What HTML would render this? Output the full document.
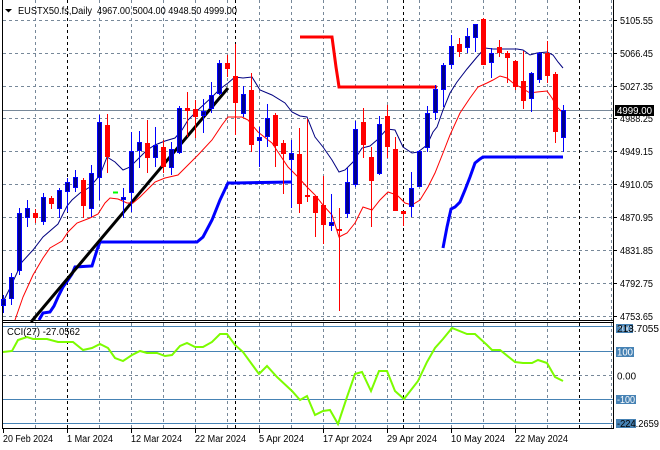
<!DOCTYPE html>
<html><head><meta charset="utf-8"><style>
html,body{margin:0;padding:0;background:#fff;}
svg{display:block;font-family:"Liberation Sans",sans-serif;}
</style></head><body>
<svg width="660" height="450" viewBox="0 0 660 450" xmlns="http://www.w3.org/2000/svg">
<rect width="660" height="450" fill="#fff"/>
<!-- grid main -->
<g stroke="#778899" stroke-width="1" stroke-dasharray="3,3" fill="none">
<path d="M3 20.5H613M3 53.5H613M3 86.5H613M3 118.5H613M3 151.5H613M3 184.5H613M3 217.5H613M3 250.5H613M3 283.5H613M3 316.5H613"/>
<path d="M35.5 0V320M99.5 0V320M131.5 0V320M163.5 0V320M195.5 0V320M227.5 0V320M259.5 0V320M291.5 0V320M323.5 0V320M355.5 0V320M387.5 0V320M419.5 0V320M451.5 0V320M483.5 0V320M515.5 0V320M547.5 0V320M611.5 0V320"/>
<path d="M35.5 323V428M99.5 323V428M131.5 323V428M163.5 323V428M195.5 323V428M227.5 323V428M259.5 323V428M291.5 323V428M323.5 323V428M355.5 323V428M387.5 323V428M419.5 323V428M451.5 323V428M483.5 323V428M515.5 323V428M547.5 323V428M611.5 323V428"/>
<path d="M3 375.5H613"/>
</g>
<g stroke="#000" stroke-width="1" stroke-dasharray="3,3" fill="none">
<path d="M67.5 0V320M235.5 0V320M403.5 0V320M579.5 0V320M67.5 323V428M235.5 323V428M403.5 323V428M579.5 323V428"/>
</g>
<!-- current price line -->
<path d="M3 110.5H613" stroke="#778899" stroke-width="1"/>
<!-- thick lines -->
<polyline fill="none" stroke="#0000ff" stroke-width="3" points="39,320 43,313 50,312 54,306 58,297 63,287 68,280 72,274 75,267 92,266 97,250 100,242 197,242 203,237 212,220 220,200 228,183 235,183 292,182"/>
<polyline fill="none" stroke="#0000ff" stroke-width="3" points="443,248 447,227 451,209 455,207 460,202 465,190 470,177 475,163 480,159 483,157 563,157"/>
<polyline fill="none" stroke="#ff0000" stroke-width="3" points="300,37 332,37 334,52 336,67 338,80 339,87 437,87"/>
<polyline fill="none" stroke="#000" stroke-width="3" points="31,322 228,88"/>
<!-- MA lines -->
<polyline fill="none" stroke="#000080" stroke-width="1" points="4,300 10,288 22,262 33,250 43,237 58,224 67,206 72,200 80,193 90,187 100,175 107,157 115,162 123,170 130,167 137,160 147,150 155,145 165,141 175,138 182,130 188,120 198,110 212,97 220,89 228,83 235,77 243,78 252,77 260,90 272,95 285,103 292,112 300,116 307,117 315,137 323,147 332,160 339,172 345,170 353,162 362,148 370,146 377,140 387,129 395,130 403,147 412,153 418,152 427,145 433,132 437,127 443,110 450,93 457,82 467,69 477,57 485,48 493,49 507,49 517,49 523,50 530,55 537,53 547,52 553,55 558,62 563,68"/>
<polyline fill="none" stroke="#ff0000" stroke-width="1" points="15,320 23,297 33,275 43,258 50,248 62,241 68,232 77,223 90,218 98,214 105,203 110,198 118,199 127,203 133,203 140,197 150,187 155,182 165,178 178,175 188,165 198,155 212,140 222,125 228,117 242,117 248,120 258,132 272,143 278,152 288,167 295,174 298,177 307,187 315,195 323,205 332,215 339,237 347,233 355,223 363,207 372,210 380,200 388,192 397,195 405,203 412,205 420,200 428,187 435,173 443,153 450,135 460,113 470,98 478,87 487,83 493,80 500,76 507,78 513,83 520,87 530,93 537,92 547,91 552,98 557,107 563,113"/>
<path d="M113 192.5H118" stroke="#00ff00" stroke-width="2"/>
<!-- borders -->
<path d="M2.5 0V429M613.5 0V429M3 320.5H613M3 322.5H613M3 428.5H613" stroke="#000" stroke-width="1" fill="none"/>
<!-- CCI levels -->
<path d="M3 326.5H613M3 351.5H613M3 399.5H613M3 423.5H613" stroke="#4682b4" stroke-width="1"/>
<polyline fill="none" stroke="#7cfc00" stroke-width="2" points="3,352 12,351 18,340 27,337 33,339 47,339 58,342 73,342 83,350 92,348 100,344 108,348 115,358 123,361 132,355 140,351 147,353 157,353 165,356 172,355 180,346 187,343 195,347 203,347 212,342 220,334 227,334 235,345 243,352 259,374 267,366 277,377 292,391 300,400 307,396 315,415 323,411 330,410 338,424 347,397 355,374 362,372 371,391 379,371 387,371 395,391 404,399 418,381 427,362 435,348 443,339 452,328 467,334 475,334 487,345 492,350 500,350 515,362 523,363 532,363 538,360 547,363 555,377 563,381"/>
<!-- axis ticks -->
<path d="M613 20.5H617M613 53.5H617M613 86.5H617M613 118.5H617M613 151.5H617M613 184.5H617M613 217.5H617M613 250.5H617M613 283.5H617M613 316.5H617M3.5 429V433M67.5 429V433M131.5 429V433M195.5 429V433M259.5 429V433M323.5 429V433M387.5 429V433M451.5 429V433M515.5 429V433" stroke="#000" stroke-width="1"/>
<!-- header -->
<path d="M5 9H12L8.5 12.5Z" fill="#000"/>
<g font-size="10" fill="#000">
<text x="18" y="14" textLength="74" lengthAdjust="spacingAndGlyphs">EUSTX50.fs,Daily</text>
<text x="97" y="14" textLength="140" lengthAdjust="spacingAndGlyphs">4967.00 5004.00 4948.50 4999.00</text>
<text x="7" y="335" textLength="73" lengthAdjust="spacingAndGlyphs">CCI(27) -27.0562</text>
</g>
<!-- price labels -->
<g font-size="10" fill="#000">
<text x="620" y="24" textLength="33" lengthAdjust="spacingAndGlyphs">5105.55</text>
<text x="620" y="57" textLength="33" lengthAdjust="spacingAndGlyphs">5066.45</text>
<text x="620" y="90" textLength="33" lengthAdjust="spacingAndGlyphs">5027.35</text>
<text x="620" y="122" textLength="33" lengthAdjust="spacingAndGlyphs">4988.25</text>
<text x="620" y="155" textLength="33" lengthAdjust="spacingAndGlyphs">4949.15</text>
<text x="620" y="188" textLength="33" lengthAdjust="spacingAndGlyphs">4910.05</text>
<text x="620" y="221" textLength="33" lengthAdjust="spacingAndGlyphs">4870.95</text>
<text x="620" y="254" textLength="33" lengthAdjust="spacingAndGlyphs">4831.85</text>
<text x="620" y="287" textLength="33" lengthAdjust="spacingAndGlyphs">4792.75</text>
<text x="620" y="320" textLength="33" lengthAdjust="spacingAndGlyphs">4753.65</text>
</g>
<rect x="615" y="105" width="39" height="11" fill="#000"/>
<text x="617" y="114" font-size="10" fill="#fff" textLength="35" lengthAdjust="spacingAndGlyphs">4999.00</text>
<!-- CCI labels -->
<rect x="616" y="324" width="17" height="9" fill="#4682b4"/>
<text x="617" y="332" font-size="9" fill="#fff">200</text>
<text x="617" y="332" font-size="10" fill="#000" textLength="42" lengthAdjust="spacingAndGlyphs">213.7055</text>
<rect x="616" y="347" width="18" height="10" fill="#4682b4"/>
<text x="617" y="355.5" font-size="10" fill="#fff" textLength="16" lengthAdjust="spacingAndGlyphs">100</text>
<text x="617" y="379.5" font-size="10" fill="#000" textLength="19" lengthAdjust="spacingAndGlyphs">0.00</text>
<rect x="616" y="395" width="20" height="9" fill="#4682b4"/>
<text x="617" y="403" font-size="10" fill="#fff" textLength="18" lengthAdjust="spacingAndGlyphs">-100</text>
<rect x="616" y="419" width="20" height="9" fill="#4682b4"/>
<text x="617" y="427" font-size="10" fill="#000" textLength="42" lengthAdjust="spacingAndGlyphs">-224.2659</text>
<!-- date labels -->
<g font-size="10" fill="#000">
<text x="3" y="442" textLength="50" lengthAdjust="spacingAndGlyphs">20 Feb 2024</text>
<text x="67" y="442" textLength="46" lengthAdjust="spacingAndGlyphs">1 Mar 2024</text>
<text x="131" y="442" textLength="51" lengthAdjust="spacingAndGlyphs">12 Mar 2024</text>
<text x="195" y="442" textLength="51" lengthAdjust="spacingAndGlyphs">22 Mar 2024</text>
<text x="259" y="442" textLength="45" lengthAdjust="spacingAndGlyphs">5 Apr 2024</text>
<text x="323" y="442" textLength="49" lengthAdjust="spacingAndGlyphs">17 Apr 2024</text>
<text x="387" y="442" textLength="50" lengthAdjust="spacingAndGlyphs">29 Apr 2024</text>
<text x="451" y="442" textLength="54" lengthAdjust="spacingAndGlyphs">10 May 2024</text>
<text x="515" y="442" textLength="53" lengthAdjust="spacingAndGlyphs">22 May 2024</text>
</g>
<!-- candles -->
<g>
<path d="M3.5 295V313M11.5 273V305M19.5 208V275M27.5 200V227M43.5 193V225M59.5 188V218M67.5 178V212M75.5 170V192M91.5 165V217M99.5 115V200M123.5 188V218M131.5 132V212M139.5 131V168M155.5 127V167M171.5 142V175M179.5 106V154M203.5 99V133M211.5 82V113M219.5 60V95M243.5 86V117M259.5 127V167M267.5 104V147M291.5 140V208M331.5 194V231M347.5 168V218M355.5 121V187M379.5 116V175M411.5 172V217M419.5 150V187M427.5 106V152M435.5 85V120M443.5 63V107M451.5 35V69M467.5 28V53M475.5 24V52M491.5 48V78M531.5 72V112M539.5 52V83M563.5 105V152" stroke="#0000ff" stroke-width="1"/>
<path d="M35.5 209V223M51.5 196V209M83.5 178V218M107.5 114V173M147.5 120V173M163.5 140V173M187.5 92V137M195.5 100V138M227.5 55V77M235.5 44V135M251.5 73V152M275.5 113V167M283.5 140V194M299.5 128V213M307.5 119V202M315.5 196V237M323.5 176V244M339.5 208V311M363.5 108V158M371.5 147V227M387.5 105V158M395.5 137V211M403.5 211V226M459.5 38V57M483.5 18V65M499.5 40V57M507.5 51V83M515.5 60V90M523.5 51V109M547.5 41V83M555.5 72V143" stroke="#ff0000" stroke-width="1"/>
<g fill="#00008b" stroke="#0000ff" stroke-width="1">
<rect x="1.5" y="299.5" width="4" height="6"/>
<rect x="9.5" y="277.5" width="4" height="21"/>
<rect x="17.5" y="213.5" width="4" height="57"/>
<rect x="25.5" y="208.5" width="4" height="9"/>
<rect x="41.5" y="197.5" width="4" height="24"/>
<rect x="57.5" y="190.5" width="4" height="18"/>
<rect x="65.5" y="182.5" width="4" height="9"/>
<rect x="73.5" y="177.5" width="4" height="10"/>
<rect x="89.5" y="173.5" width="4" height="35"/>
<rect x="97.5" y="122.5" width="4" height="55"/>
<rect x="121.5" y="197.5" width="4" height="2"/>
<rect x="129.5" y="151.5" width="4" height="41"/>
<rect x="137.5" y="142.5" width="4" height="8"/>
<rect x="153.5" y="145.5" width="4" height="12"/>
<rect x="169.5" y="149.5" width="4" height="18"/>
<rect x="177.5" y="108.5" width="4" height="44"/>
<rect x="201.5" y="111.5" width="4" height="4"/>
<rect x="209.5" y="95.5" width="4" height="13"/>
<rect x="217.5" y="63.5" width="4" height="30"/>
<rect x="241.5" y="94.5" width="4" height="19"/>
<rect x="257.5" y="137.5" width="4" height="3"/>
<rect x="265.5" y="118.5" width="4" height="18"/>
<rect x="289.5" y="153.5" width="4" height="6"/>
<rect x="329.5" y="222.5" width="4" height="3"/>
<rect x="345.5" y="182.5" width="4" height="31"/>
<rect x="353.5" y="129.5" width="4" height="55"/>
<rect x="377.5" y="124.5" width="4" height="49"/>
<rect x="409.5" y="188.5" width="4" height="18"/>
<rect x="417.5" y="151.5" width="4" height="35"/>
<rect x="425.5" y="113.5" width="4" height="34"/>
<rect x="433.5" y="89.5" width="4" height="23"/>
<rect x="441.5" y="65.5" width="4" height="24"/>
<rect x="449.5" y="46.5" width="4" height="18"/>
<rect x="465.5" y="36.5" width="4" height="11"/>
<rect x="473.5" y="24.5" width="4" height="13"/>
<rect x="489.5" y="53.5" width="4" height="9"/>
<rect x="529.5" y="73.5" width="4" height="25"/>
<rect x="537.5" y="53.5" width="4" height="26"/>
<rect x="561.5" y="110.5" width="4" height="27"/>
</g>
<g fill="#ff0000">
<rect x="33" y="213" width="5" height="5"/>
<rect x="49" y="198" width="5" height="6"/>
<rect x="81" y="180" width="5" height="26"/>
<rect x="105" y="125" width="5" height="32"/>
<rect x="145" y="143" width="5" height="15"/>
<rect x="161" y="147" width="5" height="20"/>
<rect x="185" y="108" width="5" height="3"/>
<rect x="193" y="109" width="5" height="8"/>
<rect x="225" y="63" width="5" height="6"/>
<rect x="233" y="76" width="5" height="27"/>
<rect x="249" y="90" width="5" height="55"/>
<rect x="273" y="115" width="5" height="31"/>
<rect x="281" y="143" width="5" height="11"/>
<rect x="297" y="154" width="5" height="50"/>
<rect x="305" y="195" width="5" height="2"/>
<rect x="313" y="196" width="5" height="17"/>
<rect x="321" y="205" width="5" height="20"/>
<rect x="337" y="229" width="5" height="2"/>
<rect x="361" y="122" width="5" height="23"/>
<rect x="369" y="157" width="5" height="24"/>
<rect x="385" y="116" width="5" height="31"/>
<rect x="393" y="149" width="5" height="62"/>
<rect x="401" y="211" width="5" height="3"/>
<rect x="457" y="44" width="5" height="8"/>
<rect x="481" y="19" width="5" height="46"/>
<rect x="497" y="47" width="5" height="6"/>
<rect x="505" y="53" width="5" height="5"/>
<rect x="513" y="61" width="5" height="26"/>
<rect x="521" y="81" width="5" height="20"/>
<rect x="545" y="53" width="5" height="23"/>
<rect x="553" y="74" width="5" height="58"/>
</g>
</g>
</svg>
</body></html>
